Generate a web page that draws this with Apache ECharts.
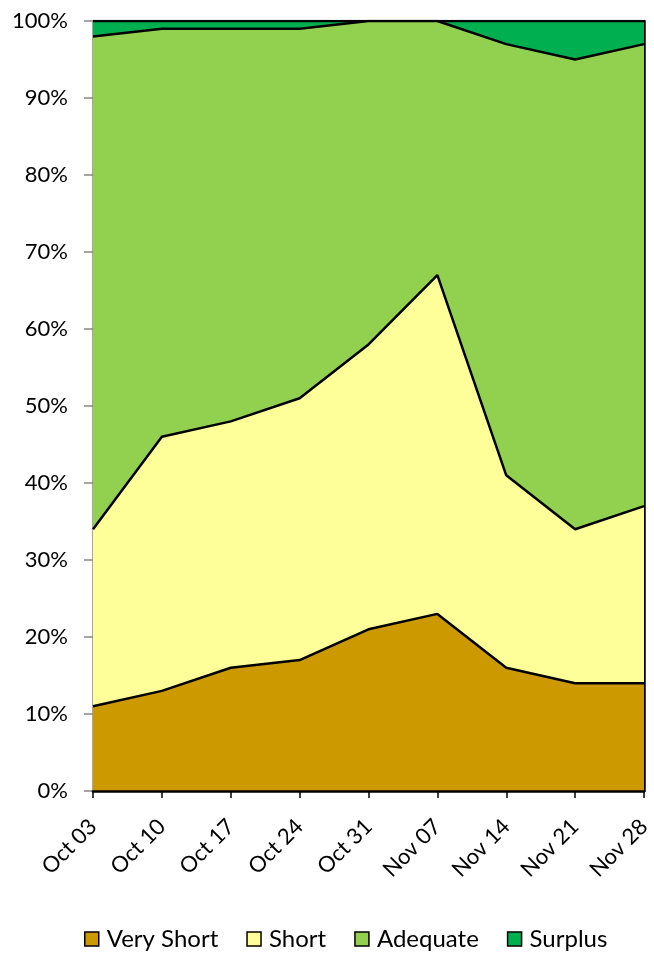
<!DOCTYPE html>
<html>
<head>
<meta charset="utf-8">
<script src="https://cdn.jsdelivr.net/npm/echarts@6/dist/echarts.min.js"></script>
<style>
  html, body { margin: 0; padding: 0; background: #fff; }
  #main { width: 654px; height: 960px; }
</style>
</head>
<body>
<div id="main"></div>
<script>
// weekly condition shares, percent
var weeks = ['Oct 03', 'Oct 10', 'Oct 17', 'Oct 24', 'Oct 31', 'Nov 07', 'Nov 14', 'Nov 21', 'Nov 28'];
var veryShort = [11, 13, 16, 17, 21, 23, 16, 14, 14];
var short = [23, 33, 32, 34, 37, 44, 25, 20, 23];
var adequate = [64, 53, 51, 48, 42, 33, 56, 61, 60];
var surplus = [2, 1, 1, 1, 0, 0, 3, 5, 3];

var names = ['Very Short', 'Short', 'Adequate', 'Surplus'];
var colors = ['#CC9900', '#FFFF99', '#92D050', '#00B050'];
var values = [veryShort, short, adequate, surplus];
var font = 'Lato, "Open Sans", sans-serif';

var myChart = echarts.init(document.getElementById('main'));

// lower series drawn on top so every border line stays fully visible
var series = names.map(function (n, i) {
    return {
        name: n,
        type: 'line',
        stack: 'total',
        data: values[i],
        symbol: 'none',
        smooth: false,
        lineStyle: { color: '#000', width: 2.5 },
        areaStyle: { color: colors[i], opacity: 1 },
        itemStyle: { color: colors[i], borderColor: '#000', borderWidth: 1.5 },
        z: 8 - i
    };
});

myChart.setOption({
    animation: false,
    grid: { left: 93, right: 10, top: 21, bottom: 169, containLabel: false },
    legend: {
        bottom: 4,
        left: 79,
        icon: 'rect',
        itemWidth: 14,
        itemHeight: 14,
        itemGap: 28,
        textStyle: { fontFamily: font, fontSize: 24, color: '#000', padding: [0, 0, 0, 3] },
        data: names.map(function (n, i) {
            return { name: n, itemStyle: { color: colors[i], borderColor: '#000', borderWidth: 1.5 } };
        })
    },
    xAxis: {
        type: 'category',
        boundaryGap: false,
        data: weeks,
        axisLine: { lineStyle: { color: '#000', width: 2.5 } },
        axisTick: { show: true, length: 7, lineStyle: { color: '#000', width: 1.5 } },
        axisLabel: { rotate: 45, margin: 32, fontFamily: font, fontSize: 22, color: '#000' },
        z: 10
    },
    yAxis: [{
        type: 'value',
        min: 0,
        max: 100,
        interval: 10,
        axisLine: { show: true, lineStyle: { color: '#888', width: 1.5 } },
        axisTick: { show: true, length: 9, lineStyle: { color: '#888', width: 1.5 } },
        splitLine: { show: false },
        axisLabel: { formatter: '{value}%', margin: 25, fontFamily: font, fontSize: 22, color: '#000' }
    }, {
        type: 'value',
        position: 'right',
        min: 0,
        max: 100,
        axisLine: { show: true, lineStyle: { color: '#000', width: 2.5 } },
        axisTick: { show: false },
        axisLabel: { show: false },
        splitLine: { show: false }
    }],
    series: series
});
</script>
</body>
</html>
